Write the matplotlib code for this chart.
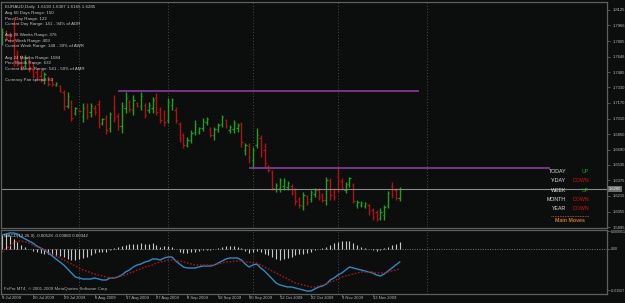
import matplotlib
matplotlib.use("Agg")
import matplotlib.pyplot as plt
import numpy as np

# ---------------- data ----------------
opens = [1.7797, 1.7899, 1.7858, 1.7817, 1.7663, 1.7632, 1.7550, 1.7612, 1.7509, 1.7489,
         1.7447, 1.7406, 1.7427, 1.7406, 1.7355, 1.7345, 1.7283, 1.7139, 1.7180, 1.7068,
         1.7098, 1.7037, 1.7139, 1.7078, 1.7119, 1.7160, 1.6965, 1.7017, 1.6913, 1.7119,
         1.7037, 1.6934, 1.7119, 1.7180, 1.7098, 1.7170, 1.7139, 1.7150, 1.7098, 1.7119,
         1.7222, 1.7098, 1.7057, 1.6996, 1.7150, 1.7098, 1.6955, 1.6842, 1.6739, 1.6790,
         1.6872, 1.6872, 1.6913, 1.6975, 1.6903, 1.6842, 1.6903, 1.6955, 1.6996, 1.6893,
         1.6903, 1.6913, 1.6955, 1.6688, 1.6728, 1.6585, 1.6739, 1.6811, 1.6688, 1.6513,
         1.6462, 1.6287, 1.6297, 1.6318, 1.6308, 1.6318, 1.6277, 1.6184, 1.6112, 1.6215,
         1.6184, 1.6236, 1.6277, 1.6225, 1.6174, 1.6369, 1.6256, 1.6410, 1.6369, 1.6277,
         1.6338, 1.6328, 1.6123, 1.6123, 1.6112, 1.6123, 1.6071, 1.6051, 1.5989, 1.6020,
         1.6123, 1.6318, 1.6277, 1.6190]
highs = [1.7940, 1.7920, 1.7899, 1.8053, 1.7715, 1.7663, 1.7663, 1.7632, 1.7591, 1.7530,
         1.7509, 1.7489, 1.7447, 1.7427, 1.7386, 1.7355, 1.7304, 1.7283, 1.7201, 1.7129,
         1.7098, 1.7170, 1.7170, 1.7170, 1.7150, 1.7201, 1.7017, 1.7047, 1.7078, 1.7252,
         1.7068, 1.7180, 1.7283, 1.7201, 1.7252, 1.7180, 1.7283, 1.7170, 1.7180, 1.7232,
         1.7273, 1.7129, 1.7098, 1.7222, 1.7222, 1.7129, 1.6975, 1.6862, 1.6821, 1.6893,
         1.6996, 1.6924, 1.7017, 1.7027, 1.6924, 1.6924, 1.6965, 1.7047, 1.7006, 1.6944,
         1.6996, 1.6965, 1.6975, 1.6759, 1.6759, 1.6718, 1.6913, 1.6842, 1.6759, 1.6533,
         1.6482, 1.6349, 1.6400, 1.6400, 1.6369, 1.6338, 1.6297, 1.6205, 1.6256, 1.6225,
         1.6277, 1.6297, 1.6297, 1.6246, 1.6410, 1.6400, 1.6297, 1.6513, 1.6400, 1.6359,
         1.6410, 1.6349, 1.6174, 1.6164, 1.6153, 1.6133, 1.6092, 1.6071, 1.6092, 1.6123,
         1.6266, 1.6359, 1.6297, 1.6307]
lows = [1.7766, 1.7817, 1.7797, 1.7550, 1.7550, 1.7509, 1.7530, 1.7489, 1.7427, 1.7406,
        1.7386, 1.7365, 1.7345, 1.7345, 1.7345, 1.7283, 1.7098, 1.7119, 1.6986, 1.7047,
        1.7078, 1.6975, 1.7006, 1.7027, 1.7047, 1.6913, 1.6944, 1.6852, 1.6872, 1.6975,
        1.6893, 1.6862, 1.7068, 1.7078, 1.7047, 1.7129, 1.7098, 1.7017, 1.7068, 1.7068,
        1.7047, 1.6965, 1.6934, 1.6965, 1.7098, 1.6965, 1.6770, 1.6708, 1.6718, 1.6759,
        1.6842, 1.6852, 1.6883, 1.6944, 1.6821, 1.6790, 1.6872, 1.6924, 1.6913, 1.6862,
        1.6862, 1.6872, 1.6718, 1.6636, 1.6554, 1.6503, 1.6708, 1.6616, 1.6513, 1.6462,
        1.6277, 1.6256, 1.6256, 1.6277, 1.6277, 1.6225, 1.6123, 1.6092, 1.6071, 1.6123,
        1.6153, 1.6205, 1.6174, 1.6153, 1.6123, 1.6174, 1.6174, 1.6256, 1.6277, 1.6246,
        1.6308, 1.6143, 1.6092, 1.6102, 1.6092, 1.6020, 1.5969, 1.5958, 1.5969, 1.5969,
        1.6092, 1.6194, 1.6174, 1.6165]
closes = [1.7899, 1.7838, 1.7817, 1.7612, 1.7571, 1.7550, 1.7632, 1.7509, 1.7447, 1.7427,
          1.7406, 1.7468, 1.7365, 1.7365, 1.7376, 1.7304, 1.7139, 1.7242, 1.7017, 1.7119,
          1.7088, 1.7119, 1.7037, 1.7139, 1.7078, 1.6955, 1.7006, 1.6893, 1.7057, 1.7017,
          1.6934, 1.7139, 1.7222, 1.7109, 1.7201, 1.7139, 1.7242, 1.7047, 1.7150, 1.7201,
          1.7078, 1.6996, 1.6975, 1.7180, 1.7201, 1.6996, 1.6811, 1.6739, 1.6790, 1.6862,
          1.6955, 1.6913, 1.6986, 1.7006, 1.6842, 1.6903, 1.6944, 1.7027, 1.6934, 1.6924,
          1.6965, 1.6944, 1.6770, 1.6739, 1.6616, 1.6688, 1.6842, 1.6667, 1.6554, 1.6482,
          1.6297, 1.6328, 1.6379, 1.6369, 1.6349, 1.6246, 1.6164, 1.6123, 1.6225, 1.6153,
          1.6256, 1.6277, 1.6205, 1.6174, 1.6379, 1.6225, 1.6205, 1.6287, 1.6297, 1.6338,
          1.6400, 1.6164, 1.6153, 1.6143, 1.6143, 1.6051, 1.5999, 1.5979, 1.6051, 1.6102,
          1.6246, 1.6225, 1.6194, 1.6285]

macd_main = [0.0070, 0.0075, 0.0080, 0.0080, 0.0075, 0.0060, 0.0050, 0.0040, 0.0030, 0.0015,
             0.0005, -0.0005, -0.0020, -0.0035, -0.0050, -0.0065, -0.0080, -0.0100, -0.0120, -0.0140,
             -0.0145, -0.0150, -0.0150, -0.0150, -0.0145, -0.0150, -0.0155, -0.0155, -0.0145, -0.0145,
             -0.0140, -0.0130, -0.0115, -0.0105, -0.0090, -0.0080, -0.0075, -0.0065, -0.0060, -0.0050,
             -0.0050, -0.0055, -0.0045, -0.0040, -0.0040, -0.0060, -0.0075, -0.0090, -0.0095, -0.0095,
             -0.0095, -0.0090, -0.0085, -0.0085, -0.0085, -0.0080, -0.0070, -0.0060, -0.0050, -0.0045,
             -0.0045, -0.0045, -0.0055, -0.0075, -0.0090, -0.0080, -0.0075, -0.0095, -0.0110, -0.0130,
             -0.0150, -0.0170, -0.0180, -0.0185, -0.0190, -0.0190, -0.0195, -0.0200, -0.0205, -0.0210,
             -0.0210, -0.0200, -0.0190, -0.0185, -0.0175, -0.0155, -0.0145, -0.0130, -0.0120, -0.0105,
             -0.0090, -0.0095, -0.0100, -0.0105, -0.0110, -0.0115, -0.0120, -0.0130, -0.0135, -0.0125,
             -0.0110, -0.0095, -0.0080, -0.0065]
macd_signal = [-0.0015, 0.0000, 0.0015, 0.0030, 0.0040, 0.0040, 0.0035, 0.0030, 0.0020, 0.0010,
               0.0005, -0.0005, -0.0015, -0.0025, -0.0035, -0.0045, -0.0055, -0.0065, -0.0075, -0.0085,
               -0.0095, -0.0105, -0.0110, -0.0120, -0.0125, -0.0130, -0.0135, -0.0140, -0.0145, -0.0145,
               -0.0140, -0.0135, -0.0130, -0.0120, -0.0115, -0.0105, -0.0100, -0.0090, -0.0085, -0.0080,
               -0.0070, -0.0065, -0.0060, -0.0055, -0.0055, -0.0060, -0.0060, -0.0065, -0.0070, -0.0075,
               -0.0080, -0.0080, -0.0080, -0.0080, -0.0080, -0.0080, -0.0075, -0.0070, -0.0065, -0.0065,
               -0.0060, -0.0060, -0.0060, -0.0065, -0.0065, -0.0070, -0.0070, -0.0080, -0.0090, -0.0100,
               -0.0110, -0.0120, -0.0130, -0.0140, -0.0150, -0.0160, -0.0170, -0.0175, -0.0180, -0.0185,
               -0.0190, -0.0190, -0.0185, -0.0180, -0.0175, -0.0165, -0.0160, -0.0150, -0.0140, -0.0135,
               -0.0130, -0.0125, -0.0120, -0.0115, -0.0115, -0.0115, -0.0115, -0.0120, -0.0120, -0.0120,
               -0.0115, -0.0110, -0.0105, -0.0100]
macd_hist = [0.0070, 0.0075, 0.0065, 0.0050, 0.0035, 0.0020, 0.0010, 0.0000, -0.0010, -0.0015,
             -0.0020, -0.0025, -0.0025, -0.0030, -0.0035, -0.0035, -0.0040, -0.0050, -0.0055, -0.0055,
             -0.0050, -0.0045, -0.0040, -0.0030, -0.0020, -0.0015, -0.0015, -0.0015, -0.0005, 0.0005,
             0.0010, 0.0015, 0.0020, 0.0025, 0.0025, 0.0025, 0.0030, 0.0025, 0.0025, 0.0030,
             0.0020, 0.0010, 0.0015, 0.0015, 0.0010, 0.0000, -0.0015, -0.0020, -0.0020, -0.0015,
             -0.0015, -0.0010, -0.0005, -0.0005, -0.0005, 0.0000, 0.0005, 0.0010, 0.0015, 0.0015,
             0.0015, 0.0010, 0.0005, -0.0010, -0.0020, -0.0015, -0.0010, -0.0015, -0.0025, -0.0030,
             -0.0040, -0.0050, -0.0055, -0.0050, -0.0045, -0.0040, -0.0030, -0.0025, -0.0025, -0.0020,
             -0.0015, -0.0005, 0.0000, 0.0005, 0.0010, 0.0020, 0.0030, 0.0035, 0.0040, 0.0040,
             0.0040, 0.0030, 0.0020, 0.0010, 0.0005, 0.0000, -0.0005, -0.0010, -0.0005, 0.0005,
             0.0010, 0.0020, 0.0025, 0.0035]

date_labels = ["9 Jul 2009", "20 Jul 2009", "29 Jul 2009", "6 Aug 2009", "17 Aug 2009",
               "27 Aug 2009", "8 Sep 2009", "18 Sep 2009", "30 Sep 2009", "12 Oct 2009",
               "22 Oct 2009", "3 Nov 2009", "13 Nov 2009"]
date_label_bars = [0, 8, 16, 24, 32, 40, 48, 56, 64, 72, 80, 88, 96]
grid_bars = [20, 43, 65, 87, 110]

price_ticks = [1.8125, 1.7966, 1.7805, 1.7646, 1.7485, 1.7330, 1.7170, 1.7010,
               1.6850, 1.6690, 1.6535, 1.6375, 1.6215, 1.6055, 1.5895]
price_tick_labels = ["1.8125", "1.7966", "1.7805", "1.7646", "1.7485", "1.7330", "1.7170", "1.7010",
                     "1.6850", "1.6690", "1.6535", "1.6375", "1.6215", "1.6055", "1.5895"]
current_price = 1.6285
upper_level = 1.7292
upper_level_bars = (30, 108)
lower_level = 1.6498
lower_level_bars = (64, 142)

info_lines = ["EURAUD,Daily  1.6190 1.6307 1.6165 1.6285",
              "Avg 60 Days Range: 150",
              "Prev Day Range: 122",
              "Current Day Range: 141 - 94% of ADR",
              "",
              "Avg 26 Weeks Range: 376",
              "Prev Week Range: 403",
              "Current Week Range: 148 - 39% of AWR",
              "",
              "Avg 24 Months Range: 1084",
              "Prev Month Range: 632",
              "Current Month Range: 541 - 50% of AMR",
              "",
              "Currency Pair spread: 60"]
trend_periods = ["TODAY", "Y-DAY", "WEEK", "MONTH", "YEAR"]
trend_dirs = ["UP", "DOWN", "UP", "DOWN", "DOWN"]

# ---------------- style ----------------
BG = "#0c0e0e"
FRAME = "#5e5e5e"
TXT = "#b8b8b8"
GREEN = "#1ea01e"
RED = "#b01212"
FONT = "Liberation Sans"
plt.rcParams["font.family"] = [FONT, "DejaVu Sans"]

W, H = 625, 303
fig = plt.figure(figsize=(6.25, 3.03), dpi=100, facecolor=BG)


def box(x0, y0, x1, y1):
    return [x0 / W, 1 - y1 / H, (x1 - x0) / W, (y1 - y0) / H]


ax = fig.add_axes(box(1, 2, 607, 228))
ax2 = fig.add_axes(box(1, 230, 607, 294))
for a in (ax, ax2):
    a.set_facecolor(BG)
    for s in a.spines.values():
        s.set_color(FRAME)
        s.set_linewidth(0.9)

n = len(closes)
x = np.arange(n)
XL = (-0.26, 156.7)

# ---- main price panel ----
for gx in grid_bars:
    ax.axvline(gx, color="#4a4a4a", lw=0.7, ls=(0, (1, 2)))
    ax2.axvline(gx, color="#4a4a4a", lw=0.7, ls=(0, (1, 2)))

cols = [GREEN if c >= o else RED for o, c in zip(opens, closes)]
ax.vlines(x, lows, highs, colors=cols, lw=1.0)
ax.hlines(opens, x - 0.35, x, colors=cols, lw=0.9)
ax.hlines(closes, x, x + 0.35, colors=cols, lw=0.9)

ax.axhline(current_price, color="#8a8a8a", lw=0.8)
ax.hlines(upper_level, *upper_level_bars, color="#8a3c9c", lw=1.2)
ax.hlines(lower_level, *lower_level_bars, color="#8a3c9c", lw=1.2)

ax.set_xlim(*XL)
ax.set_ylim(1.5886, 1.8207)
ax.set_xticks([])
ax.yaxis.tick_right()
ax.set_yticks(price_ticks)
ax.set_yticklabels(price_tick_labels)
ax.tick_params(axis="y", colors=FRAME, labelcolor=TXT, labelsize=3.0, length=2, width=0.6, pad=2)

ax.text(1.003, current_price, "1.6285", transform=ax.get_yaxis_transform(),
        fontsize=3.0, color="#f0f0f0", va="center", ha="left",
        bbox=dict(boxstyle="square,pad=0.25", fc="#6e6e6e", ec="none"))

# info text
y0 = 0.985
step = 0.0247
for k, line in enumerate(info_lines):
    ax.text(0.006, y0 - k * step, line, transform=ax.transAxes, fontsize=3.2,
            color="#c4c4c4", va="top", ha="left")

# trend block
ty = [1.6465, 1.6370, 1.6275, 1.6180, 1.6085]
for per, d, yy in zip(trend_periods, trend_dirs, ty):
    ax.text(565 / 606 * (XL[1] - XL[0]) + XL[0], yy, per, fontsize=3.8, color="#dedede",
            ha="right", va="center")
    ax.text(588 / 606 * (XL[1] - XL[0]) + XL[0], yy, d, fontsize=3.8,
            color=GREEN if d == "UP" else "#d01010", ha="right", va="center")
xa = 550 / 606 * (XL[1] - XL[0]) + XL[0]
xb = 588 / 606 * (XL[1] - XL[0]) + XL[0]
ax.hlines(1.6013, xa, xb, color="#c06a1a", lw=0.6, ls=(0, (1, 1)))
ax.text((xa + xb) / 2, 1.5960, "Main Moves", fontsize=3.8, color="#d0761e",
        fontweight="bold", ha="center", va="center")

# ---- MACD panel ----
ax2.axhline(0, color="#7a7a7a", lw=0.7, ls=(0, (1, 1.5)))
ax2.vlines(x, 0, macd_hist, colors="#c8c8c8", lw=0.8)
ax2.plot(x, macd_main, color="#2a8ac8", lw=1.0)
ax2.plot(x, macd_signal, color="#b01212", lw=1.0, ls=(0, (1.2, 1.2)))
ax2.set_xlim(*XL)
ax2.set_ylim(-0.0225, 0.0095)
ax2.yaxis.tick_right()
ax2.set_yticks([0.0088, 0.0, -0.0205])
ax2.set_yticklabels(["0.009951", "0.00", "-0.01507"])
ax2.tick_params(axis="y", colors=FRAME, labelcolor=TXT, labelsize=2.6, length=2, width=0.6, pad=1)
ax2.set_xticks(date_label_bars)
ax2.set_xticklabels([])
ax2.tick_params(axis="x", colors=FRAME, length=2, width=0.6, direction="out")
for b, lab in zip(date_label_bars, date_labels):
    ax2.text(b, -0.03, lab, transform=ax2.get_xaxis_transform(), fontsize=3.0,
             color=TXT, ha="left", va="top")

ax2.text(0.005, 0.93, "MACD(12,26,9) -0.00528 -0.00880 0.00342", transform=ax2.transAxes,
         fontsize=3.2, color="#c4c4c4", va="top", ha="left")
ax2.text(0.005, 0.05, "FxPro MT4, \u00a9 2001-2009 MetaQuotes Software Corp.",
         transform=ax2.transAxes, fontsize=3.2, color="#b0b0b0", va="bottom", ha="left")

fig.savefig("out.png", dpi=100, facecolor=BG)
